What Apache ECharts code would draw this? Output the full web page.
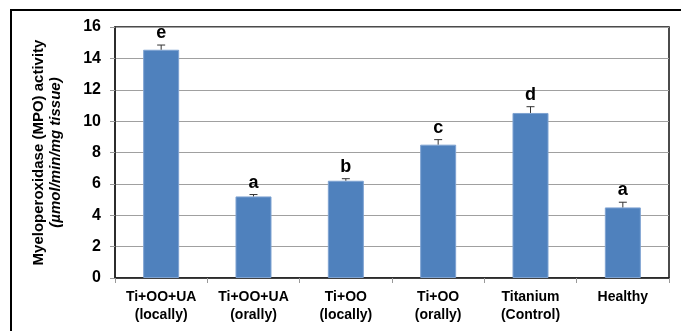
<!DOCTYPE html>
<html><head><meta charset="utf-8">
<script src="https://cdn.jsdelivr.net/npm/echarts@6/dist/echarts.min.js"></script>
<style>html,body{margin:0;padding:0;background:#fff}#c{width:681px;height:331px;position:relative}
#frame{position:absolute;left:10px;top:9px;width:700px;height:400px;border:2px solid #000;pointer-events:none}</style>
</head><body><div id="c"></div><div id="frame"></div>
<script>
const categories = ['Ti+OO+UA\n(locally)','Ti+OO+UA\n(orally)','Ti+OO\n(locally)','Ti+OO\n(orally)','Titanium\n(Control)','Healthy'];
const values = [14.55, 5.2, 6.2, 8.5, 10.52, 4.5];
const errors = [0.3, 0.12, 0.13, 0.32, 0.4, 0.33];
const letters = ['e','a','b','c','d','a'];
const yTicks = {min:0, max:16, interval:2};

const chart = echarts.init(document.getElementById('c'));
chart.setOption({
  animation:false,
  grid:{left:115, right:12, top:27, bottom:53, show:true, borderColor:'#111', borderWidth:1.5},
  xAxis:{type:'category', data:categories,
    axisLine:{lineStyle:{color:'#222', width:1.5}},
    axisTick:{show:true, alignWithLabel:false, length:5, lineStyle:{color:'#999'}},
    axisLabel:{color:'#000', fontFamily:'Liberation Sans', fontWeight:'bold', fontSize:14, lineHeight:18, margin:10, interval:0}},
  yAxis:{type:'value', min:yTicks.min, max:yTicks.max, interval:yTicks.interval,
    axisLine:{show:true, lineStyle:{color:'#222', width:1.5}},
    axisTick:{show:true, length:5, lineStyle:{color:'#999'}},
    splitLine:{lineStyle:{color:'#a0a0a0', width:1}},
    axisLabel:{color:'#000', fontFamily:'Liberation Sans', fontWeight:'bold', fontSize:16, margin:14},
    name:'{a|Myeloperoxidase (MPO) activity}\n{b|(µmol/min/mg tissue)}',
    nameLocation:'middle', nameRotate:90, nameGap:51,
    nameTextStyle:{rich:{
      a:{fontFamily:'Liberation Sans', fontWeight:'bold', fontSize:15, color:'#000', lineHeight:17},
      b:{fontFamily:'Liberation Sans', fontWeight:'bold', fontStyle:'italic', fontSize:15, color:'#000', lineHeight:17}}}},
  series:[
    {type:'bar', data:values, barWidth:'39%', itemStyle:{color:'#4F81BD', borderColor:'#7FA3D2', borderWidth:1}},
    {type:'custom', data:values.map((v,i)=>[i,v,errors[i],letters[i]]), z:5,
      renderItem:function(params, api){
        const x = api.value(0), v = api.value(1), e = api.value(2);
        const top = api.coord([x, v+e]);
        const base = api.coord([x, v]);
        const hw = 4;
        return {type:'group', children:[
          {type:'line', shape:{x1:top[0],y1:base[1],x2:top[0],y2:top[1]}, style:{stroke:'#333', lineWidth:1}},
          {type:'line', shape:{x1:top[0]-hw,y1:top[1],x2:top[0]+hw,y2:top[1]}, style:{stroke:'#333', lineWidth:1}},
          {type:'text', x:top[0], y:top[1]-3, style:{text:letters[params.dataIndex], fill:'#000',
            font:'bold 18px "Liberation Sans"', textAlign:'center', textVerticalAlign:'bottom'}}
        ]};
      }}
  ]
});
</script></body></html>
